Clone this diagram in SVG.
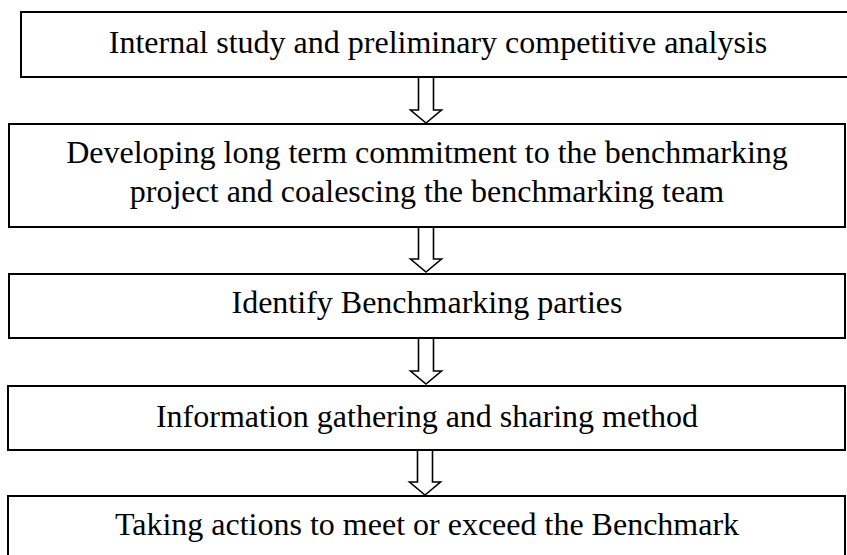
<svg xmlns="http://www.w3.org/2000/svg" width="847" height="555" viewBox="0 0 847 555">
  <style>
    .box { fill: #ffffff; stroke: #000000; stroke-width: 2; }
    .arrow { fill: #ffffff; stroke: #000000; stroke-width: 1.6; stroke-linejoin: miter; }
    .label { font-family: "Liberation Serif", "Times New Roman", serif; font-size: 32px; fill: #000000; text-anchor: middle; }
  </style>
  <rect width="847" height="555" fill="#ffffff"/>

  <g id="connectors">
    <path class="arrow" d="M418.5,77 V110 H410.5 L426,123 L441.5,110 H433.5 V77"/>
    <path class="arrow" d="M418.5,227 V259 H410.5 L426,272 L441.5,259 H433.5 V227"/>
    <path class="arrow" d="M418.5,338 V371 H410.5 L426,384 L441.5,371 H433.5 V338"/>
    <path class="arrow" d="M417.5,450 V482 H409.5 L425,495 L440.5,482 H432.5 V450"/>
  </g>

  <g id="step1">
    <rect class="box" x="21" y="12" width="840" height="65"/>
    <text class="label" x="438" y="53">Internal study and preliminary competitive analysis</text>
  </g>

  <g id="step2">
    <rect class="box" x="9" y="124" width="836" height="103"/>
    <text class="label" x="427" y="163">Developing long term commitment to the benchmarking</text>
    <text class="label" x="427" y="202">project and coalescing the benchmarking team</text>
  </g>

  <g id="step3">
    <rect class="box" x="9" y="274" width="836" height="64"/>
    <text class="label" x="427" y="313">Identify Benchmarking parties</text>
  </g>

  <g id="step4">
    <rect class="box" x="8" y="386" width="837" height="64"/>
    <text class="label" x="427" y="427">Information gathering and sharing method</text>
  </g>

  <g id="step5">
    <rect class="box" x="8" y="496" width="837" height="70"/>
    <text class="label" x="427" y="535">Taking actions to meet or exceed the Benchmark</text>
  </g>
</svg>
